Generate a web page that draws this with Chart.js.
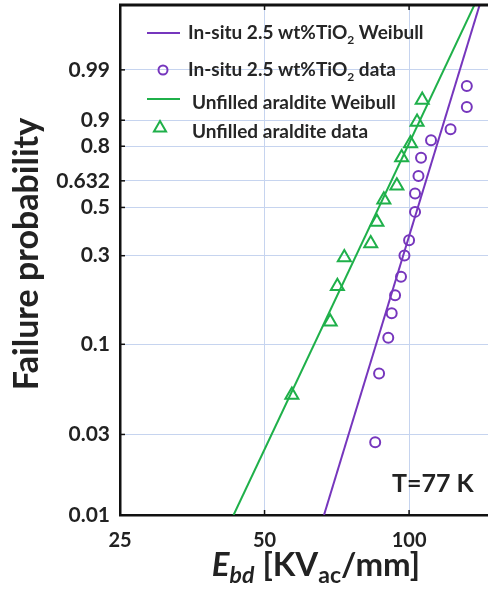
<!DOCTYPE html>
<html><head><meta charset="utf-8">
<script src="https://cdn.jsdelivr.net/npm/chart.js@4.4.1/dist/chart.umd.min.js"></script>
<style>html,body{margin:0;padding:0;background:#fff;overflow:hidden}#wrap{width:488px;height:602px;position:relative}canvas{display:block}</style>
</head><body><div id="wrap"><canvas id="c" width="488" height="602"></canvas></div>
<script>
// ---- data ----
const probTicks = [0.01, 0.03, 0.1, 0.3, 0.5, 0.632, 0.8, 0.9, 0.99];
const probTickLabels = ['0.01', '0.03', '0.1', '0.3', '0.5', '0.632', '0.8', '0.9', '0.99'];
const fieldTicks = [25, 50, 100];
const fieldTickLabels = ['25', '50', '100'];

const tio2Field = [85.0, 86.6, 90.5, 92.0, 93.5, 96.2, 97.8, 100.0, 102.9, 102.9, 104.6, 105.9, 111.1, 122.0, 131.9, 131.9];
const tio2Prob  = [0.027, 0.068, 0.109, 0.149, 0.187, 0.234, 0.301, 0.357, 0.479, 0.568, 0.657, 0.747, 0.826, 0.869, 0.937, 0.975];

const araldField = [57.0, 68.5, 70.9, 73.3, 83.2, 85.7, 88.6, 94.3, 96.5, 100.7, 103.9, 106.5];
const araldProb  = [0.051, 0.134, 0.209, 0.294, 0.344, 0.433, 0.537, 0.607, 0.748, 0.812, 0.894, 0.952];

const tio2FitField  = [66.5, 140.6];
const tio2FitProb   = [0.01, 0.99999];
const araldFitField = [43.1, 137.3];
const araldFitProb  = [0.01, 0.99999];

const seriesNames = ['In-situ 2.5 wt%TiO2 Weibull', 'In-situ 2.5 wt%TiO2 data', 'Unfilled araldite Weibull', 'Unfilled araldite data'];
const annotationText = 'T=77 K';

// ---- Weibull probability axis mapping ----
const weib = p => Math.log(-Math.log(1 - p));
const pts = (xs, ps) => xs.map((x, i) => ({ x: x, y: weib(ps[i]) }));

const PURPLE = '#7636bd';
const GREEN = '#1fb04a';
const GRID = '#c6d4ef';
const FONT = 'Lato, "Open Sans", sans-serif';

function drawRich(ctx, parts, x, y, align) {
  let total = 0;
  parts.forEach(p => { ctx.font = p.font; total += ctx.measureText(p.t).width; });
  let cx = align === 'center' ? x - total / 2 : x;
  parts.forEach(p => {
    ctx.font = p.font;
    ctx.fillText(p.t, cx, y + (p.dy || 0));
    cx += ctx.measureText(p.t).width;
  });
}

function nameParts(name, size) {
  const i = name.indexOf('TiO2');
  const f = 'bold ' + size + 'px ' + FONT;
  const fs = 'bold ' + Math.round(size * 0.62) + 'px ' + FONT;
  if (i < 0) return [{ t: name, font: f }];
  return [
    { t: name.slice(0, i + 3), font: f },
    { t: '2', font: fs, dy: 5 },
    { t: ' ' + name.slice(i + 4).trim(), font: f }
  ];
}

const decor = {
  id: 'decor',
  afterDraw(chart) {
    const ctx = chart.ctx;
    const a = chart.chartArea;
    const xs = chart.scales.x, ys = chart.scales.y;
    ctx.save();
    // top frame line
    ctx.strokeStyle = '#111';
    ctx.lineWidth = 3;
    ctx.beginPath(); ctx.moveTo(a.left - 1, a.top); ctx.lineTo(a.right, a.top); ctx.stroke();
    // inward tick marks
    ctx.lineWidth = 1.5;
    ys.ticks.forEach(t => {
      const py = ys.getPixelForValue(t.value);
      ctx.beginPath(); ctx.moveTo(a.left, py); ctx.lineTo(a.left + 5, py); ctx.stroke();
    });
    xs.ticks.forEach(t => {
      const px = xs.getPixelForValue(t.value);
      ctx.beginPath(); ctx.moveTo(px, a.bottom); ctx.lineTo(px, a.bottom - 5); ctx.stroke();
      ctx.beginPath(); ctx.moveTo(px, a.top); ctx.lineTo(px, a.top + 5); ctx.stroke();
    });

    // legend
    const rows = [
      { y: 33, tx: 188, base: 39 },
      { y: 70, tx: 188, base: 76 },
      { y: 99, tx: 192, base: 109 },
      { y: 128, tx: 192, base: 138 }
    ];
    chart.data.datasets.forEach((ds, i) => {
      const r = rows[i];
      ctx.strokeStyle = ds.borderColor;
      ctx.fillStyle = 'rgba(0,0,0,0)';
      ctx.lineWidth = 2;
      if (ds.showLine) {
        ctx.beginPath(); ctx.moveTo(147, r.y); ctx.lineTo(180, r.y); ctx.stroke();
      } else {
        Chart.helpers.drawPoint(ctx, {
          pointStyle: ds.pointStyle, radius: ds.pointStyle === 'circle' ? 4.5 : 7,
          borderWidth: 2, rotation: 0
        }, i === 1 ? 163 : 160, r.y);
      }
      ctx.fillStyle = '#262626';
      ctx.textBaseline = 'alphabetic';
      ctx.textAlign = 'left';
      drawRich(ctx, nameParts(ds.label, 19), r.tx, r.base, 'left');
    });

    // annotation
    ctx.fillStyle = '#222';
    ctx.font = 'bold 25px ' + FONT;
    ctx.textAlign = 'left';
    ctx.fillText(annotationText, 392, 492);

    // x title
    ctx.fillStyle = '#222';
    drawRich(ctx, [
      { t: 'E', font: 'italic bold 33px ' + FONT },
      { t: 'bd', font: 'italic bold 23px ' + FONT, dy: 7 },
      { t: ' [KV', font: 'bold 33px ' + FONT },
      { t: 'ac', font: 'bold 23px ' + FONT, dy: 7 },
      { t: '/mm]', font: 'bold 33px ' + FONT }
    ], 316, 576, 'center');

    // y title
    ctx.save();
    ctx.translate(38, 254);
    ctx.rotate(-Math.PI / 2);
    ctx.font = 'bold 34px ' + FONT;
    ctx.textAlign = 'center';
    ctx.fillText('Failure probability', 0, 0);
    ctx.restore();
    ctx.restore();
  }
};

new Chart(document.getElementById('c'), {
  type: 'scatter',
  data: {
    datasets: [
      { label: seriesNames[0], data: pts(tio2FitField, tio2FitProb), showLine: true, borderColor: PURPLE, borderWidth: 2, pointRadius: 0, fill: false },
      { label: seriesNames[1], data: pts(tio2Field, tio2Prob), showLine: false, pointStyle: 'circle', pointRadius: 5, borderColor: PURPLE, backgroundColor: 'rgba(0,0,0,0)', borderWidth: 2 },
      { label: seriesNames[2], data: pts(araldFitField, araldFitProb), showLine: true, borderColor: GREEN, borderWidth: 2, pointRadius: 0, fill: false },
      { label: seriesNames[3], data: pts(araldField, araldProb), showLine: false, pointStyle: 'triangle', pointRadius: 7.5, borderColor: GREEN, backgroundColor: 'rgba(0,0,0,0)', borderWidth: 2 }
    ]
  },
  options: {
    responsive: false,
    animation: false,
    devicePixelRatio: 1,
    layout: { autoPadding: false, padding: { top: 5, left: 0, right: 0, bottom: 0 } },
    plugins: { legend: { display: false }, tooltip: { enabled: false } },
    scales: {
      x: {
        type: 'logarithmic', min: 25, max: 146,
        afterBuildTicks: s => { s.ticks = fieldTicks.map(v => ({ value: v })); },
        afterFit: s => { s.height = 87; s.paddingLeft = 0; s.paddingRight = 0; s.paddingTop = 0; s.paddingBottom = 0; },
        grid: { color: GRID, lineWidth: 1, drawTicks: false },
        border: { color: '#111', width: 2.5 },
        ticks: {
          padding: 14, color: '#222', font: { family: FONT, size: 20, weight: 'bold' },
          autoSkip: false, maxRotation: 0,
          callback: (v, i) => fieldTickLabels[i]
        }
      },
      y: {
        type: 'linear', min: weib(0.01), max: 2.42,
        afterBuildTicks: s => { s.ticks = probTicks.map(p => ({ value: weib(p) })); },
        afterFit: s => { s.width = 120; s.paddingLeft = 0; s.paddingRight = 0; s.paddingTop = 0; s.paddingBottom = 0; },
        grid: { color: GRID, lineWidth: 1, drawTicks: false },
        border: { color: '#111', width: 2.5 },
        ticks: {
          padding: 10, color: '#222', font: { family: FONT, size: 21, weight: 'bold' },
          autoSkip: false,
          callback: (v, i) => probTickLabels[i]
        }
      }
    }
  },
  plugins: [decor]
});
</script></body></html>
